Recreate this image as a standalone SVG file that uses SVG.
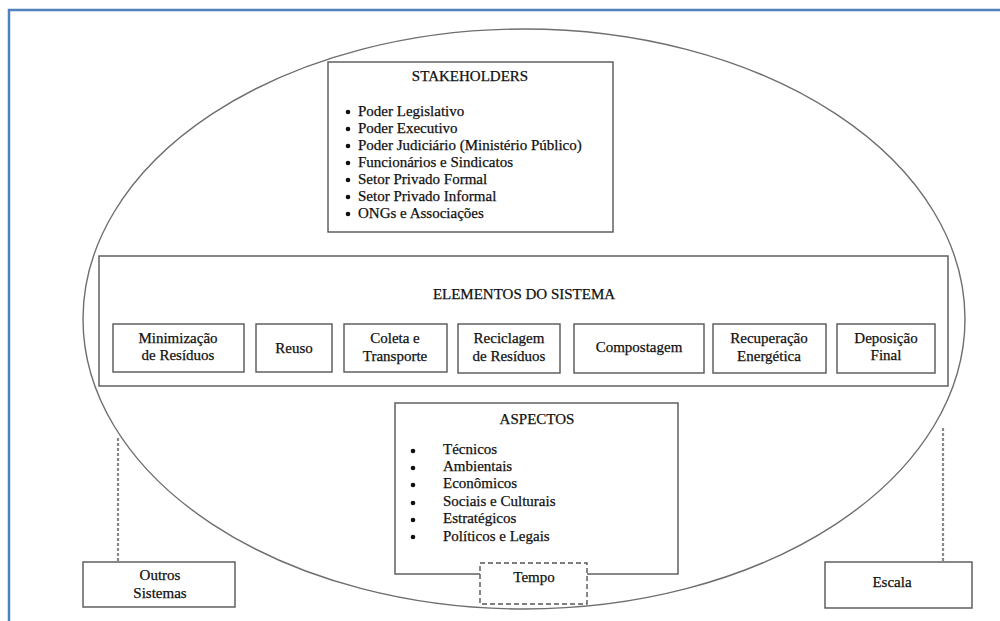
<svg xmlns="http://www.w3.org/2000/svg" width="1000" height="621" viewBox="0 0 1000 621" font-family="'Liberation Serif', 'Times New Roman', serif">
<style>
.frame{fill:none;stroke:#4f81bd;stroke-width:2.5}
.ell{fill:none;stroke:#6e6e6e;stroke-width:1.4}
.box{fill:#fff;stroke:#555;stroke-width:1.4}
.dbox{fill:#fff;stroke:#555;stroke-width:1.4;stroke-dasharray:5 3}
.dline{stroke:#888;stroke-width:2.2;stroke-dasharray:3 2}
text{font-family:'Liberation Serif','Times New Roman',serif;font-size:15px;fill:#111;stroke:#111;stroke-width:0.25}
.c{text-anchor:middle}
.dot{fill:#111}
</style>
<rect class="frame" x="9" y="10" width="1000" height="620"/>
<ellipse class="ell" cx="524" cy="319" rx="441" ry="290"/>
<g id="connectors">
<line class="dline" x1="118" y1="438" x2="118" y2="562"/>
<line class="dline" x1="943" y1="428" x2="943" y2="562"/>
</g>
<g id="stakeholders">
<rect class="box" x="328" y="62" width="285" height="170"/>
<text class="c" x="470" y="81">STAKEHOLDERS</text>
<circle class="dot" cx="348" cy="112" r="2.3"/>
<circle class="dot" cx="348" cy="129" r="2.3"/>
<circle class="dot" cx="348" cy="146" r="2.3"/>
<circle class="dot" cx="348" cy="163" r="2.3"/>
<circle class="dot" cx="348" cy="180" r="2.3"/>
<circle class="dot" cx="348" cy="197" r="2.3"/>
<circle class="dot" cx="348" cy="214" r="2.3"/>
<text x="358" y="116">Poder Legislativo</text>
<text x="358" y="133">Poder Executivo</text>
<text x="358" y="150">Poder Judiciário (Ministério Público)</text>
<text x="358" y="167">Funcionários e Sindicatos</text>
<text x="358" y="184">Setor Privado Formal</text>
<text x="358" y="201">Setor Privado Informal</text>
<text x="358" y="218">ONGs e Associações</text>
</g>
<g id="elementos">
<rect class="box" x="99" y="256" width="849" height="130"/>
<text class="c" x="524" y="299">ELEMENTOS DO SISTEMA</text>
</g>
<g id="minimizacao">
<rect class="box" x="113" y="324" width="131" height="48"/>
<text class="c" x="178" y="343">Minimização</text>
<text class="c" x="178" y="360">de Resíduos</text>
</g>
<g id="reuso">
<rect class="box" x="256" y="324" width="76" height="48"/>
<text class="c" x="294" y="353">Reuso</text>
</g>
<g id="coleta">
<rect class="box" x="344" y="324" width="103" height="48"/>
<text class="c" x="395" y="343">Coleta e</text>
<text class="c" x="395" y="361">Transporte</text>
</g>
<g id="reciclagem">
<rect class="box" x="458" y="324" width="102" height="49"/>
<text class="c" x="509" y="343">Reciclagem</text>
<text class="c" x="509" y="361">de Resíduos</text>
</g>
<g id="compostagem">
<rect class="box" x="574" y="324" width="130" height="49"/>
<text class="c" x="639" y="352">Compostagem</text>
</g>
<g id="recuperacao">
<rect class="box" x="713" y="324" width="113" height="49"/>
<text class="c" x="769" y="343">Recuperação</text>
<text class="c" x="769" y="361">Energética</text>
</g>
<g id="deposicao">
<rect class="box" x="837" y="324" width="98" height="49"/>
<text class="c" x="886" y="343">Deposição</text>
<text class="c" x="886" y="360">Final</text>
</g>
<g id="aspectos">
<rect class="box" x="395" y="403" width="283" height="171"/>
<text class="c" x="537" y="424">ASPECTOS</text>
<circle class="dot" cx="413" cy="451" r="2.3"/>
<circle class="dot" cx="413" cy="468" r="2.3"/>
<circle class="dot" cx="413" cy="485" r="2.3"/>
<circle class="dot" cx="413" cy="503" r="2.3"/>
<circle class="dot" cx="413" cy="520" r="2.3"/>
<circle class="dot" cx="413" cy="537" r="2.3"/>
<text x="443" y="454">Técnicos</text>
<text x="443" y="471">Ambientais</text>
<text x="443" y="488">Econômicos</text>
<text x="443" y="506">Sociais e Culturais</text>
<text x="443" y="523">Estratégicos</text>
<text x="443" y="541">Políticos e Legais</text>
</g>
<g id="tempo">
<rect class="dbox" x="480" y="563" width="107" height="41"/>
<text class="c" x="534" y="582">Tempo</text>
</g>
<g id="outros">
<rect class="box" x="83" y="562" width="152" height="45"/>
<text class="c" x="160" y="580">Outros</text>
<text class="c" x="160" y="598">Sistemas</text>
</g>
<g id="escala">
<rect class="box" x="825" y="562" width="147" height="46"/>
<text class="c" x="892" y="587">Escala</text>
</g>
</svg>
